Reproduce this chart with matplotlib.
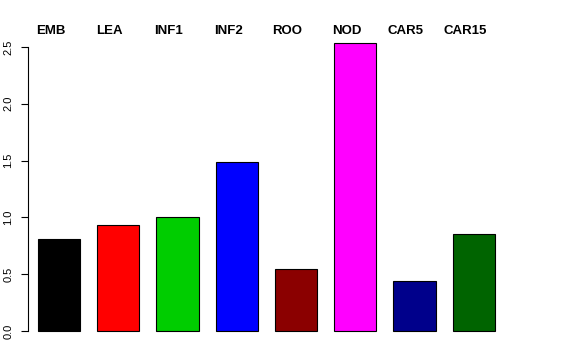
import matplotlib
matplotlib.use("Agg")
import matplotlib.pyplot as plt
import matplotlib.transforms as mtransforms
import numpy as np

plt.rcParams['font.family'] = ['Liberation Sans', 'DejaVu Sans']

# values
tissues = ['EMB', 'LEA', 'INF1', 'INF2', 'ROO', 'NOD', 'CAR5', 'CAR15']
values = [0.81, 0.93, 1.00, 1.49, 0.545, 2.535, 0.44, 0.855]
colors = ['black', 'red', '#00CD00', 'blue', '#8B0000', 'magenta', '#00008B', '#006400']
yticks = [0.0, 0.5, 1.0, 1.5, 2.0, 2.5]

fig = plt.figure(figsize=(5.76, 3.6), dpi=100)
ax = fig.add_axes([0.0486, 0.0647, 0.9236, 0.8364])

# R barplot style: width 1, space 0.4
x = 0.9 + 1.4 * np.arange(len(tissues))
ax.bar(x, values, width=1.0, color=colors, edgecolor='black', linewidth=0.8)

ax.set_xlim(0.168, 12.74)
ax.set_ylim(-0.05, 2.6)

for s in ['top', 'right', 'bottom']:
    ax.spines[s].set_visible(False)
ax.spines['left'].set_bounds(0, 2.5)
ax.spines['left'].set_linewidth(0.8)
ax.set_xticks([])
ax.set_yticks(yticks)
ax.set_yticklabels([f'{t:.1f}' for t in yticks], rotation=90, va='center', fontsize=8)
ax.tick_params(axis='y', length=5, width=0.8, pad=5.5)

# tissue names above the bars
trans = mtransforms.blended_transform_factory(ax.transData, fig.transFigure)
for xi, name in zip(x, tissues):
    ax.text(xi - 0.2, (360 - 34) / 360, name, transform=trans, ha='center',
            va='baseline', fontsize=9.5, fontweight='bold', clip_on=False)

fig.savefig('out.png', dpi=100)
